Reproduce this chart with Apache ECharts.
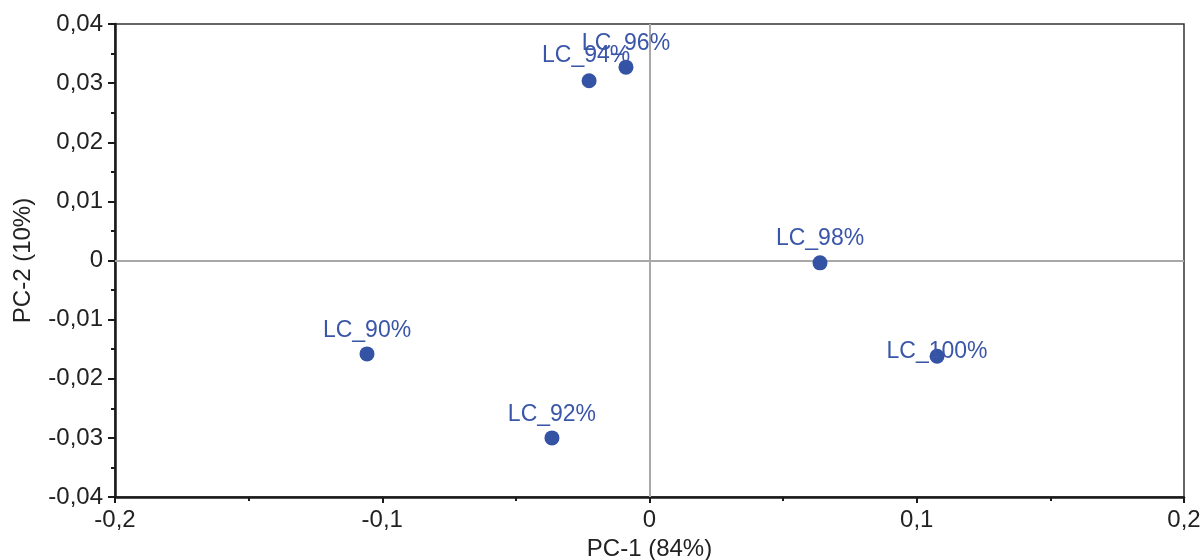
<!DOCTYPE html>
<html>
<head>
<meta charset="utf-8">
<script src="https://cdn.jsdelivr.net/npm/echarts@6/dist/echarts.min.js"></script>
<style>
  html, body { margin: 0; padding: 0; background: #fff; }
  #chart { width: 1204px; height: 560px; }
</style>
</head>
<body>
<div id="chart"></div>
<script>
// PCA scores: sample names with their PC-1 / PC-2 coordinates
const samples = ['LC_90%', 'LC_92%', 'LC_94%', 'LC_96%', 'LC_98%', 'LC_100%'];
const pc1 = [-0.1057, -0.0365, -0.0226, -0.0088, 0.0638, 0.1076];
const pc2 = [-0.0158, -0.0300, 0.0304, 0.0327, -0.0004, -0.0162];

// label placement relative to each point (px)
const labelOffsets = [[0, -23], [0, -23], [-3, -25], [0, -23.5], [0, -24], [0, -5]];

const fmt = v => (v === 0 ? '0' : String(+v.toFixed(3)).replace('.', ','));
const textFont = 'Liberation Sans, Arial, sans-serif';
const blue = '#3453a5';

const points = samples.map((name, i) => ({
  name: name,
  value: [pc1[i], pc2[i]],
  label: { offset: labelOffsets[i] }
}));

const chart = echarts.init(document.getElementById('chart'));
chart.setOption({
  animation: false,
  grid: {
    left: 115, right: 20, top: 24, bottom: 63,
    containLabel: false, outerBoundsMode: 'none',
    show: true, borderColor: '#333', borderWidth: 1.5, backgroundColor: 'transparent'
  },
  xAxis: {
    type: 'value', min: -0.2, max: 0.2, interval: 0.1,
    name: 'PC-1 (84%)', nameLocation: 'middle', nameGap: 40,
    nameTextStyle: { fontFamily: textFont, fontSize: 24, color: '#222' },
    axisLine: { show: true, onZero: false, lineStyle: { color: '#1a1a1a', width: 2.5 } },
    axisTick: { show: true, length: 6, lineStyle: { color: '#1a1a1a', width: 2 } },
    minorTick: { show: true, splitNumber: 2, length: 4, lineStyle: { color: '#1a1a1a', width: 2 } },
    axisLabel: { formatter: fmt, fontFamily: textFont, fontSize: 24, color: '#222', margin: 11 },
    splitLine: { show: false }
  },
  yAxis: {
    type: 'value', min: -0.04, max: 0.04, interval: 0.01,
    name: 'PC-2 (10%)', nameLocation: 'middle', nameGap: 80,
    nameTextStyle: { fontFamily: textFont, fontSize: 24, color: '#222' },
    axisLine: { show: true, onZero: false, lineStyle: { color: '#1a1a1a', width: 2.5 } },
    axisTick: { show: true, length: 7, lineStyle: { color: '#1a1a1a', width: 2 } },
    minorTick: { show: true, splitNumber: 2, length: 4, lineStyle: { color: '#1a1a1a', width: 2 } },
    axisLabel: { formatter: fmt, fontFamily: textFont, fontSize: 24, color: '#222', margin: 12 },
    splitLine: { show: false }
  },
  series: [{
    type: 'scatter',
    data: points,
    symbol: 'circle',
    symbolSize: 15,
    itemStyle: { color: blue, opacity: 1 },
    label: {
      show: true,
      position: 'inside',
      formatter: p => p.name,
      fontFamily: textFont,
      fontSize: 23,
      color: '#3a56a8'
    },
    markLine: {
      silent: true,
      symbol: 'none',
      label: { show: false },
      lineStyle: { color: '#a8a8a8', width: 2, type: 'solid' },
      data: [{ xAxis: 0 }, { yAxis: 0 }],
      z: 1
    },
    z: 3
  }]
});
</script>
</body>
</html>
